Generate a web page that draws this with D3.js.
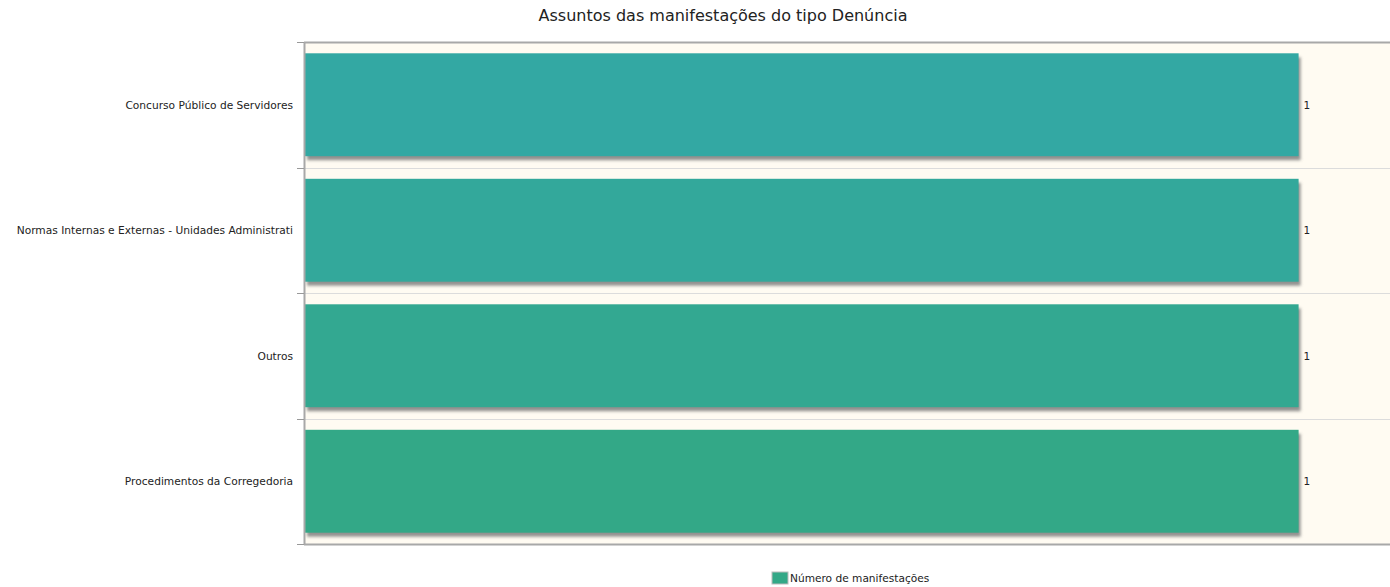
<!DOCTYPE html>
<html>
<head>
<meta charset="utf-8">
<script src="https://cdn.jsdelivr.net/npm/d3@7"></script>
<style>
  body { margin: 0; background: #fff; }
  svg { font-family: "DejaVu Sans", Verdana, sans-serif; }
</style>
</head>
<body>
<div id="chart"></div>
<script>
var titleText = "Assuntos das manifestações do tipo Denúncia";
var categories = [
    "Concurso Público de Servidores",
    "Normas Internas e Externas - Unidades Administrati",
    "Outros",
    "Procedimentos da Corregedoria"
];
var values = [1, 1, 1, 1];
var barColors = ["#33a8a3", "#33a89b", "#33a891", "#33a887"];
var seriesName = "Número de manifestações";

var W = 1390, H = 587;
var margin = { top: 42, right: 0, bottom: 43, left: 304 };
var width = W - margin.left - margin.right,
    height = H - margin.top - margin.bottom;

var x = d3.scaleLinear().domain([0, 1.093]).range([0, width]);
var y = d3.scaleBand().domain(categories).range([0, height]).paddingInner(0.18).paddingOuter(0.09);
var yb = d3.scaleBand().domain(categories).range([0, height]);

var svg = d3.select("#chart").append("svg")
    .attr("width", W).attr("height", H);

var defs = svg.append("defs");
defs.append("filter").attr("id", "blur")
    .append("feGaussianBlur").attr("stdDeviation", 1.5);

svg.append("text")
    .attr("x", 723).attr("y", 21)
    .attr("text-anchor", "middle")
    .style("font-size", "16px")
    .attr("fill", "#222")
    .text(titleText);

var g = svg.append("g")
    .attr("transform", "translate(" + margin.left + "," + margin.top + ")");

// plot background
g.append("rect")
    .attr("width", width).attr("height", height)
    .attr("fill", "#fffbf2");

// grid lines between categories
g.append("g").selectAll("line")
    .data(categories.slice(1))
    .join("line")
    .attr("x1", 0).attr("x2", width)
    .attr("y1", d => Math.round(yb(d)) + 0.5)
    .attr("y2", d => Math.round(yb(d)) + 0.5)
    .attr("stroke", "#dcdcdc");

// shadows
g.append("g").selectAll("rect")
    .data(values)
    .join("rect")
    .attr("x", 3)
    .attr("y", (d, i) => y(categories[i]) + 4)
    .attr("width", d => x(d))
    .attr("height", y.bandwidth())
    .attr("fill", "#777")
    .attr("opacity", 0.8)
    .attr("filter", "url(#blur)");

// bars
g.append("g").selectAll("rect")
    .data(values)
    .join("rect")
    .attr("x", 1)
    .attr("y", (d, i) => y(categories[i]))
    .attr("width", d => x(d))
    .attr("height", y.bandwidth())
    .attr("fill", (d, i) => barColors[i]);

// value labels
g.append("g").selectAll("text")
    .data(values)
    .join("text")
    .attr("x", d => x(d) + 6)
    .attr("y", (d, i) => y(categories[i]) + y.bandwidth() / 2 + 4)
    .style("font-size", "10.5px")
    .attr("fill", "#222")
    .text(d => d);

// borders
g.append("line").attr("x1", 0).attr("x2", width).attr("y1", 0.5).attr("y2", 0.5)
    .attr("stroke", "#a8a8a8").attr("stroke-width", 2);
g.append("line").attr("x1", 0).attr("x2", width).attr("y1", height + 0.5).attr("y2", height + 0.5)
    .attr("stroke", "#a8a8a8").attr("stroke-width", 2);
g.append("line").attr("x1", 0.5).attr("x2", 0.5).attr("y1", 0).attr("y2", height)
    .attr("stroke", "#a8a8a8").attr("stroke-width", 2);

// y axis ticks and labels
var ticks = yb.domain().map(d => yb(d)).concat([height]);
g.append("g").selectAll("line")
    .data(ticks)
    .join("line")
    .attr("x1", -7).attr("x2", 0)
    .attr("y1", d => Math.round(d) + 0.5).attr("y2", d => Math.round(d) + 0.5)
    .attr("stroke", "#999");

g.append("g").selectAll("text")
    .data(categories)
    .join("text")
    .attr("x", -11)
    .attr("y", d => yb(d) + yb.bandwidth() / 2 + 4)
    .attr("text-anchor", "end")
    .style("font-size", "10.65px")
    .attr("fill", "#222")
    .text(d => d);

// legend
var legend = svg.append("g").attr("transform", "translate(772,572)");
legend.append("rect")
    .attr("width", 16).attr("height", 12)
    .attr("fill", barColors[3])
    .attr("stroke", "#bbb");
legend.append("text")
    .attr("x", 18).attr("y", 10)
    .style("font-size", "10.6px")
    .attr("fill", "#222")
    .text(seriesName);
</script>
</body>
</html>
